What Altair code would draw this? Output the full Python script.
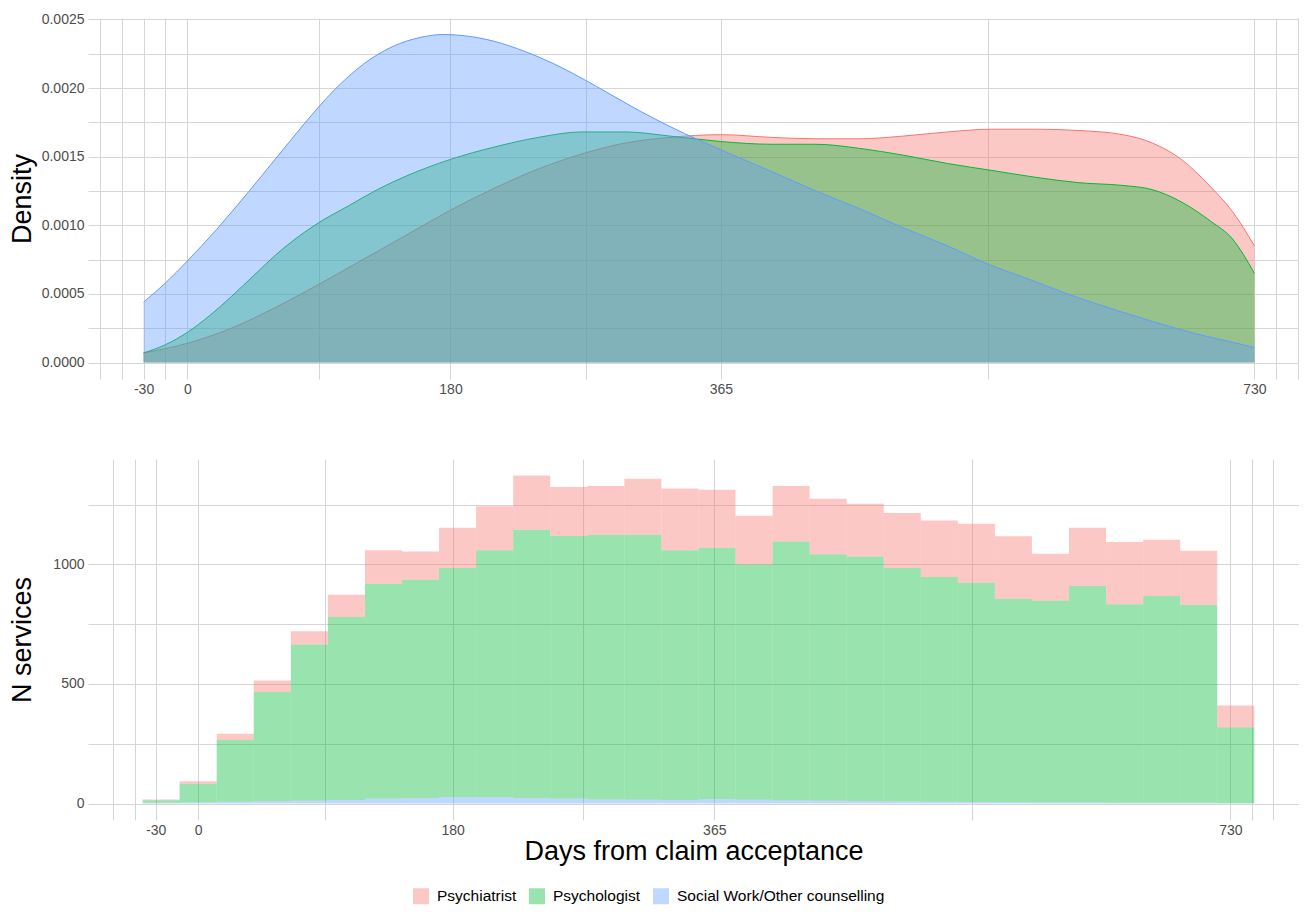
import altair as alt
import pandas as pd

types = ["Psychiatrist", "Psychologist", "Social Work/Other counselling"]
colors = ["#F8766D", "#00BA38", "#619CFF"]

# ---- density curves (top panel) ----
days_psychiatrist = [-30, 0, 30, 60, 90, 120, 150, 180, 210, 240, 270, 300, 330, 365,
                     400, 430, 460, 490, 520, 550, 580, 610, 640, 660, 680, 700, 715, 730]
dens_psychiatrist = [0.00007, 0.00014, 0.00025, 0.00040, 0.00057, 0.00075, 0.00093,
                     0.00111, 0.00127, 0.00141, 0.00152, 0.00160, 0.00164, 0.00166,
                     0.00164, 0.00163, 0.00163, 0.00165, 0.00168, 0.00170, 0.00170,
                     0.00169, 0.00166, 0.00160, 0.00148, 0.00128, 0.00110, 0.00085]
days_psychologist = [-30, -15, 0, 15, 30, 45, 60, 75, 90, 110, 130, 150, 180, 210, 240, 270,
                     300, 330, 365, 400, 430, 460, 490, 520, 550, 580, 610, 640, 660, 680,
                     700, 715, 730]
dens_psychologist = [0.00007, 0.00013, 0.00022, 0.00034, 0.00048, 0.00063, 0.00078, 0.00091,
                     0.00102, 0.00114, 0.00126, 0.00136, 0.00148, 0.00157, 0.00164, 0.00168,
                     0.00168, 0.00165, 0.00161, 0.00159, 0.00159, 0.00156, 0.00151, 0.00145,
                     0.00140, 0.00135, 0.00131, 0.00129, 0.00126, 0.00117, 0.00103, 0.00090,
                     0.00065]
days_social = [-30, -15, 0, 20, 40, 60, 80, 100, 120, 140, 160, 175, 190, 210, 230, 250,
               270, 290, 310, 330, 350, 365, 400, 430, 460, 490, 520, 547, 575, 602, 630,
               660, 690, 710, 730]
dens_social = [0.00044, 0.00058, 0.00074, 0.00097, 0.00122, 0.00148, 0.00174, 0.00198,
               0.00217, 0.00230, 0.00237, 0.00239, 0.00238, 0.00234, 0.00227, 0.00218,
               0.00207, 0.00195, 0.00183, 0.00172, 0.00162, 0.00155, 0.00139, 0.00125,
               0.00112, 0.00098, 0.00085, 0.00072, 0.00061, 0.00050, 0.00040, 0.00030,
               0.00021, 0.00016, 0.00011]

# ---- histogram (bottom panel), 30 bins ----
bin_start = -39.31
bin_width = 26.207
n_psychiatrist = [3, 11, 26, 49, 56, 93, 140, 118, 168, 184, 227, 205, 204, 234, 258,
                  242, 203, 232, 232, 220, 230, 237, 247, 262, 195, 243, 261, 235, 227, 91]
n_psychologist = [11, 77, 258, 456, 653, 765, 899, 914, 957, 1033, 1123, 1099, 1107, 1108, 1044,
                  1052, 984, 1083, 1030, 1023, 976, 939, 916, 850, 844, 905, 829, 865, 827, 318]
n_social = [3, 5, 8, 10, 12, 15, 20, 22, 28, 26, 22, 20, 17, 16, 15,
            18, 16, 13, 12, 10, 9, 8, 7, 6, 5, 5, 4, 3, 3, 1]

x_labels = [-30, 0, 180, 365, 730]
x_grid_top = [-60, -45, -30, -15, 0, 90, 180, 272.5, 365, 547.5, 730, 745, 760]
x_grid_bottom = [-60, -45, -30, 0, 90, 180, 272.5, 365, 547.5, 730, 745, 760]
y_grid_top = [0, 0.00025, 0.0005, 0.00075, 0.001, 0.00125, 0.0015, 0.00175, 0.002, 0.00225, 0.0025]
y_grid_bottom = [0, 250, 500, 750, 1000, 1250]

# ---- tables ----
dens_rows = []
for t, ds, vs in zip(types, [days_psychiatrist, days_psychologist, days_social],
                     [dens_psychiatrist, dens_psychologist, dens_social]):
    for d, v in zip(ds, vs):
        dens_rows.append({"day": d, "density": v, "type": t})
dens_df = pd.DataFrame(dens_rows)

rows = []
series = [n_social, n_psychologist, n_psychiatrist]
stack_types = [types[2], types[1], types[0]]
for k, (t, vals) in enumerate(zip(stack_types, series)):
    for i, v in enumerate(vals):
        lo = bin_start + i * bin_width
        rows.append({"bin": i, "lo": lo, "hi": lo + bin_width, "n": v, "type": t, "ord": k})
bars_df = pd.DataFrame(rows)

lab_x = "indexof([" + ",".join(str(v) for v in x_labels) + "], datum.value) >= 0 ? toString(datum.value) : ''"

W = 1211
H = 361

# ---- top panel ----
x_top = alt.X("day:Q", scale=alt.Scale(domain=[-68, 760.5], nice=False, zero=False),
              axis=alt.Axis(values=x_grid_top, labelExpr=lab_x, title=None))
y_top = alt.Y("density:Q", scale=alt.Scale(domain=[-0.00012, 0.00251], nice=False, zero=False),
              axis=alt.Axis(values=y_grid_top, title="Density",
                            labelExpr="abs(datum.value*2000 - round(datum.value*2000)) < 1e-6 ? format(datum.value, '.4f') : ''"))

layers = []
for t, c in zip(types, colors):
    base = alt.Chart(dens_df).transform_filter(alt.datum.type == t)
    layers.append(base.mark_area(color=c, fillOpacity=0.4, interpolate="monotone")
                  .encode(x=x_top, y=y_top, y2=alt.datum(0)))
    layers.append(base.mark_line(color=c, strokeWidth=1, interpolate="monotone")
                  .encode(x=x_top, y=y_top))
top = alt.layer(*layers).properties(width=W, height=H)

# ---- bottom panel ----
bottom = alt.Chart(bars_df).transform_stack(
    stack="n", as_=["y0", "y1"], groupby=["bin"], sort=[alt.SortField("ord", order="ascending")]
).mark_bar(opacity=0.4, strokeWidth=0).encode(
    x=alt.X("lo:Q", scale=alt.Scale(domain=[-77.9, 778.5], nice=False, zero=False),
            axis=alt.Axis(values=x_grid_bottom, labelExpr=lab_x, title="Days from claim acceptance")),
    x2="hi:Q",
    y=alt.Y("y1:Q", scale=alt.Scale(domain=[-68.6, 1440.6], nice=False, zero=False),
            axis=alt.Axis(values=y_grid_bottom, title="N services",
                          labelExpr="datum.value % 500 == 0 ? toString(datum.value) : ''")),
    y2="y0:Q",
    color=alt.Color("type:N", scale=alt.Scale(domain=types, range=colors),
                    legend=alt.Legend(orient="none", legendX=325, legendY=870, direction="horizontal",
                                      title=None, symbolType="square", symbolSize=256,
                                      symbolOpacity=0.4, symbolStrokeWidth=0,
                                      labelFontSize=15.5, labelColor="#000000", labelOffset=8,
                                      columnPadding=12, labelLimit=400, padding=0)),
).properties(width=W, height=H)

chart = alt.vconcat(top, bottom, spacing=80, bounds="flush").properties(
    padding={"left": 0, "top": 4, "right": 0, "bottom": 0},
    background="#ffffff",
).configure(font="Liberation Sans").configure_axis(
    grid=True, gridColor="#d6d6d6", gridWidth=1, domain=False, ticks=False,
    labelColor="#4d4d4d", labelFontSize=14, labelFont="Liberation Sans",
    titleFont="Liberation Sans", titleFontSize=27, titleColor="#000000",
    titleFontWeight="normal", labelOverlap=False, labelFlush=False,
).configure_axisY(
    labelPadding=4, minExtent=48, maxExtent=48, titlePadding=4,
).configure_axisX(
    labelPadding=3, titlePadding=1,
).configure_legend(
    labelFont="Liberation Sans",
).configure_view(strokeWidth=0)

chart.save("out.html", embed_options={"renderer": "svg", "actions": False})
